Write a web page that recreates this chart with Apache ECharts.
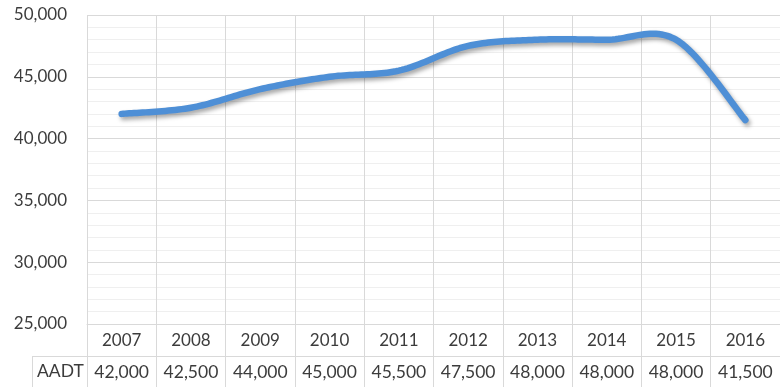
<!DOCTYPE html>
<html>
<head>
<meta charset="utf-8">
<script src="https://cdn.jsdelivr.net/npm/echarts@6/dist/echarts.min.js"></script>
<style>
  html, body { margin: 0; padding: 0; background: #fff; }
  #chart { width: 780px; height: 387px; }
</style>
</head>
<body>
<div id="chart"></div>
<script>
// Annual average daily traffic by year
const years = ['2007', '2008', '2009', '2010', '2011', '2012', '2013', '2014', '2015', '2016'];
const aadt = [42000, 42500, 44000, 45000, 45500, 47500, 48000, 48000, 48000, 41500];
const seriesName = 'AADT';
const yMin = 25000;
const yMax = 50000;
const yStep = 5000;

const textColor = '#3c3c3c';
const gridColor = '#d9d9d9';
const lineColor = '#4e8fd6';
const font = 'Lato, "Noto Sans", sans-serif';
const fmt = v => Number(v).toLocaleString('en-US');

const chart = echarts.init(document.getElementById('chart'), null, { renderer: 'canvas' });

const gridLeft = 87, gridTop = 15, gridBottom = 63;
const rowHeight = 32;
const H = 387;
const tableLineY = H - gridBottom + rowHeight;

// Catmull-Rom style smoothing through the projected points (tension 1/6),
// sampled into a polyline so the whole curve is one stroke with one shadow.
function smoothPoints(pts, steps) {
  const out = [pts[0]];
  for (let i = 0; i < pts.length - 1; i++) {
    const p0 = pts[Math.max(i - 1, 0)];
    const p1 = pts[i];
    const p2 = pts[i + 1];
    const p3 = pts[Math.min(i + 2, pts.length - 1)];
    const c1 = [p1[0] + (p2[0] - p0[0]) / 6, p1[1] + (p2[1] - p0[1]) / 6];
    const c2 = [p2[0] - (p3[0] - p1[0]) / 6, p2[1] - (p3[1] - p1[1]) / 6];
    for (let s = 1; s <= steps; s++) {
      const t = s / steps, u = 1 - t;
      out.push([
        u * u * u * p1[0] + 3 * u * u * t * c1[0] + 3 * u * t * t * c2[0] + t * t * t * p2[0],
        u * u * u * p1[1] + 3 * u * u * t * c1[1] + 3 * u * t * t * c2[1] + t * t * t * p2[1]
      ]);
    }
  }
  return out;
}

chart.setOption({
  animation: false,
  backgroundColor: '#ffffff',
  grid: { left: gridLeft, right: 0, top: gridTop, bottom: gridBottom, containLabel: false },
  xAxis: [
    {
      type: 'category',
      data: years,
      boundaryGap: true,
      axisLine: { show: true, lineStyle: { color: gridColor, width: 1 } },
      axisTick: { show: true, alignWithLabel: false, length: gridBottom, lineStyle: { color: gridColor } },
      axisLabel: { color: textColor, fontFamily: font, fontSize: 17, margin: 8, interval: 0 },
      splitLine: { show: true, lineStyle: { color: gridColor, width: 1 } }
    },
    {
      type: 'category',
      data: aadt.map(fmt),
      position: 'bottom',
      offset: rowHeight,
      boundaryGap: true,
      axisLine: { show: true, lineStyle: { color: gridColor, width: 1 } },
      axisTick: { show: false },
      axisLabel: { color: textColor, fontFamily: font, fontSize: 17.5, margin: 7, interval: 0, hideOverlap: false },
      splitLine: { show: false }
    }
  ],
  yAxis: {
    type: 'value',
    min: yMin,
    max: yMax,
    interval: yStep,
    axisLine: { show: false },
    axisTick: { show: false },
    axisLabel: { color: textColor, fontFamily: font, fontSize: 17, margin: 20, formatter: fmt },
    splitLine: { show: true, lineStyle: { color: gridColor, width: 1 } },
    minorTick: { show: false, splitNumber: 5 },
    minorSplitLine: { show: true, lineStyle: { color: '#efefef', width: 1 } }
  },
  series: [{
    name: seriesName,
    type: 'custom',
    coordinateSystem: 'cartesian2d',
    xAxisIndex: 0,
    data: aadt.map((v, i) => [i, v]),
    encode: { x: 0, y: 1 },
    clip: false,
    renderItem: function (params, api) {
      if (params.dataIndex !== 0) return null;
      const pts = aadt.map((v, i) => api.coord([i, v]));
      return {
        type: 'polyline',
        shape: { points: smoothPoints(pts, 24) },
        style: {
          fill: null,
          stroke: lineColor,
          lineWidth: 6.5,
          lineCap: 'round',
          lineJoin: 'round',
          shadowColor: 'rgba(0,0,0,0.35)',
          shadowBlur: 4,
          shadowOffsetX: 2,
          shadowOffsetY: 3
        }
      };
    }
  }],
  graphic: [
    // table row divider extending under the series name cell
    { type: 'line', shape: { x1: 32, y1: tableLineY + 0.5, x2: gridLeft, y2: tableLineY + 0.5 },
      style: { stroke: gridColor, lineWidth: 1 } },
    // left border of the series name cell
    { type: 'line', shape: { x1: 32.5, y1: tableLineY, x2: 32.5, y2: H },
      style: { stroke: gridColor, lineWidth: 1 } },
    { type: 'text', left: 37, top: tableLineY + 6,
      style: { text: seriesName, fill: textColor, font: '17.5px ' + font } }
  ]
});
</script>
</body>
</html>
